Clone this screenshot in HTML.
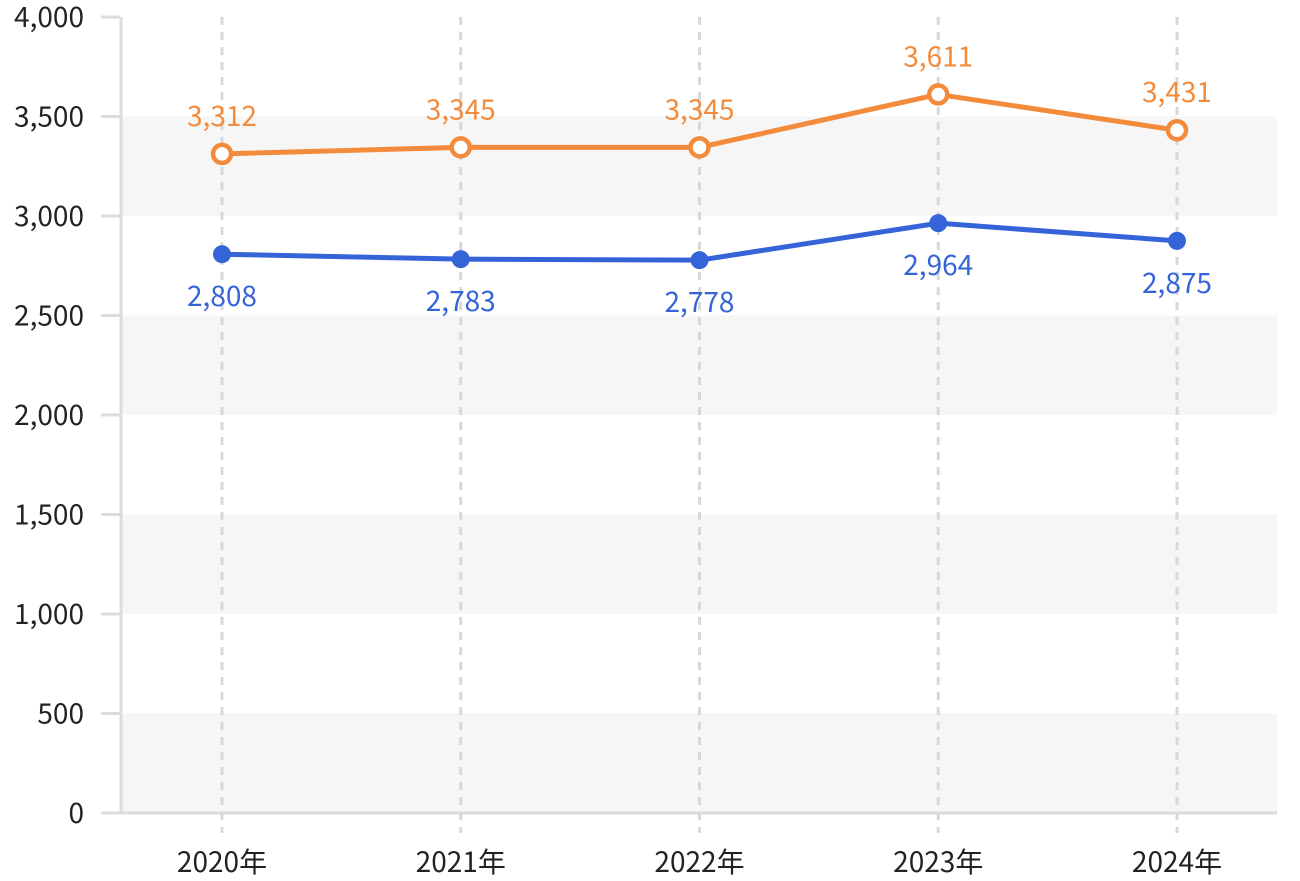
<!DOCTYPE html>
<html><head><meta charset="utf-8"><style>
html,body{margin:0;padding:0;background:#fff;}
svg text{font-family:"Noto Sans CJK JP","Liberation Sans",sans-serif;}
</style></head><body>
<svg width="1300" height="876" viewBox="0 0 1300 876">
<g id="bands"></g><g id="grid"></g><g id="axes"></g><g id="series"></g><g id="labels"></g>
</svg>
<script>
const categories = ["2020年","2021年","2022年","2023年","2024年"];
const seriesOrange = [3312,3345,3345,3611,3431];
const seriesBlue = [2808,2783,2778,2964,2875];
const yTicks = [0,500,1000,1500,2000,2500,3000,3500,4000];
const yTickLabels = ["0","500","1,000","1,500","2,000","2,500","3,000","3,500","4,000"];
const orangeLabels = ["3,312","3,345","3,345","3,611","3,431"];
const blueLabels = ["2,808","2,783","2,778","2,964","2,875"];

const NS="http://www.w3.org/2000/svg";
const x0=120,x1=1277,yBase=813,yTop=17,yMax=4000;
const y = v => yBase - (v/yMax)*(yBase-yTop);
const x = i => 222 + i*238.75;
function mk(tag,attrs,parent,text){const e=document.createElementNS(NS,tag);for(const k in attrs)e.setAttribute(k,attrs[k]);if(text!=null)e.textContent=text;document.getElementById(parent).appendChild(e);return e;}

for(let i=0;i<yTicks.length-1;i++){
  if(i%2===0){
    const r=mk('rect',{x:x0,y:y(yTicks[i+1]),width:x1-x0,height:y(yTicks[i])-y(yTicks[i+1]),fill:'#f6f6f6'},'bands');
    
    
  }
}
categories.forEach((c,i)=>{
  const l=mk('line',{x1:x(i),x2:x(i),y1:yTop,y2:833,stroke:'#d8d8d8','stroke-width':3,'stroke-dasharray':'8,7'},'grid');
  
  
  const t=mk('text',{x:x(i),y:872,'text-anchor':'middle','font-size':28,fill:'#222'},'labels',c);
  
  
});
yTicks.forEach((v,i)=>{
  const l=mk('line',{x1:101,x2:x0,y1:y(v),y2:y(v),stroke:'#dcdcdc','stroke-width':3},'axes');
  
  
  const t=mk('text',{x:84,y:y(v)+10,'text-anchor':'end','font-size':28,fill:'#222'},'labels',yTickLabels[i]);
  
  
});
const ya=mk('line',{x1:x0+1,x2:x0+1,y1:yTop,y2:yBase+1,stroke:'#dcdcdc','stroke-width':3},'axes');


const xa=mk('line',{x1:101,x2:x1,y1:yBase,y2:yBase,stroke:'#dcdcdc','stroke-width':3},'axes');



function drawSeries(vals,labs,color,hollow,above,name){
  const p=mk('polyline',{points:vals.map((v,i)=>x(i)+','+y(v)).join(' '),fill:'none',stroke:color,'stroke-width':5,'stroke-linejoin':'round'},'series');
  
  
  vals.forEach((v,i)=>{
    const c=mk('circle',hollow?{cx:x(i),cy:y(v),r:9,fill:'#fff',stroke:color,'stroke-width':4.5}:{cx:x(i),cy:y(v),r:9,fill:color},'series');
    
    
    const t=mk('text',{x:x(i),y:above?y(v)-28:y(v)+52,'text-anchor':'middle','font-size':28,fill:color},'labels',labs[i]);
    
    
  });
}
drawSeries(seriesOrange,orangeLabels,'#f38b3c',true,true,'orange-series');
drawSeries(seriesBlue,blueLabels,'#3563d8',false,false,'blue-series');
</script>
</body></html>
